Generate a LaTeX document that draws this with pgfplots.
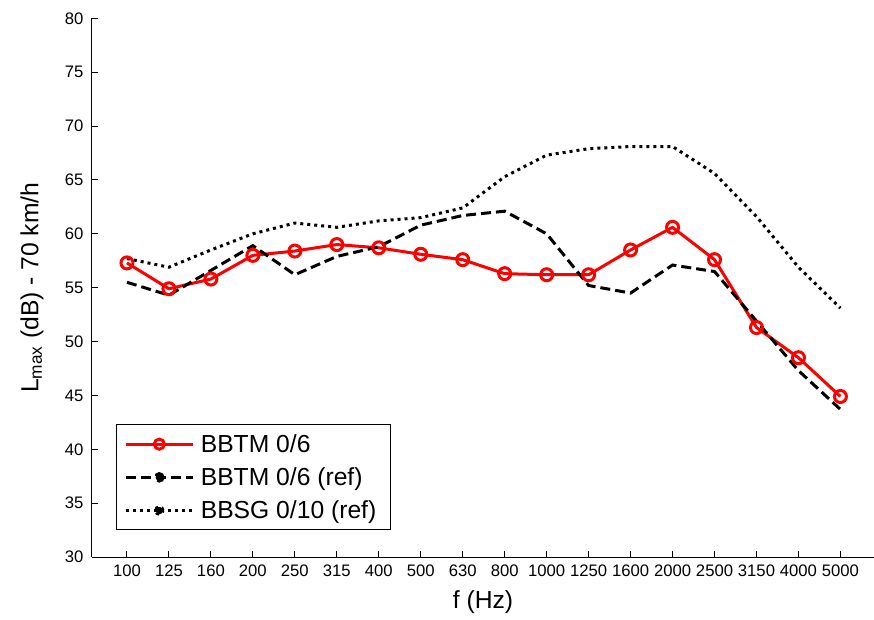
\documentclass[border=0pt]{standalone}
\usepackage{fontspec}
\setmainfont{Liberation Sans}
\usepackage{pgfplots}
\pgfplotsset{compat=1.18}
\pgfplotsset{
  dotlegend/.style={legend image code/.code={\draw[##1] (0pt,0pt) -- (50pt,0pt); \fill[black] (25pt,0pt) circle (2.8pt);}},
  circlegend/.style={legend image code/.code={\draw[##1,mark=none] (0pt,0pt) -- (50pt,0pt); \draw[##1,only marks,mark size=3.8pt] plot coordinates {(25pt,0pt)};}},
}
\begin{document}
\begin{tikzpicture}
\begin{axis}[
  name=ax,
  scale only axis, width=586.5pt, height=404pt,
  xmin=-0.833, xmax=17.8, ymin=30, ymax=80,
  axis x line*=bottom, axis y line*=left,
  axis line style={-, line width=0.75pt},
  tick align=inside, major tick length=4.5pt,
  tick style={line width=0.75pt, black},
  xtick={0,...,17},
  xticklabels={100,125,160,200,250,315,400,500,630,800,1000,1250,1600,2000,2500,3150,4000,5000},
  ytick={30,35,...,80},
  /pgf/number format/assume math mode=true,
  ticklabel style={font=\fontsize{12.5}{15}\selectfont},
  xticklabel style={yshift=-2pt},
  yticklabel style={xshift=-3pt},
  label style={font=\fontsize{18.5}{22}\selectfont},
  xlabel={f (Hz)},
  ylabel={L\textsubscript{max} (dB) - 70 km/h},
  xlabel style={yshift=-4pt},
  ylabel style={yshift=9pt},
  legend cell align=left,
  legend style={at={(18pt,20pt)}, anchor=south west, draw=black, line width=0.75pt,
    font=\fontsize{18.5}{21}\selectfont, inner xsep=6pt, inner ysep=5pt,
    row sep=6pt, legend columns=1,
    nodes={inner xsep=5pt}},
]
\addplot[red, line width=2.25pt, mark=o, mark size=4.5pt, mark options={line width=2.25pt, solid}, circlegend]
 coordinates {(0,57.3)(1,54.9)(2,55.8)(3,58.0)(4,58.4)(5,59.0)(6,58.7)(7,58.1)(8,57.6)(9,56.3)(10,56.2)(11,56.2)(12,58.5)(13,60.6)(14,57.6)(15,51.3)(16,48.5)(17,44.9)};
\addlegendentry{BBTM 0/6}
\addplot[black, line width=2.25pt, dash pattern=on 7.5pt off 3.75pt, dotlegend]
 coordinates {(0,55.5)(1,54.3)(2,56.6)(3,58.9)(4,56.2)(5,57.9)(6,58.8)(7,60.8)(8,61.7)(9,62.1)(10,60.0)(11,55.2)(12,54.5)(13,57.1)(14,56.5)(15,51.9)(16,47.3)(17,43.7)};
\addlegendentry{BBTM 0/6 (ref)}
\addplot[black, line width=2.25pt, dash pattern=on 2.25pt off 3pt, dotlegend]
 coordinates {(0,57.7)(1,56.9)(2,58.5)(3,60.0)(4,61.0)(5,60.6)(6,61.2)(7,61.5)(8,62.4)(9,65.3)(10,67.3)(11,67.9)(12,68.1)(13,68.1)(14,65.6)(15,61.6)(16,56.9)(17,53.1)};
\addlegendentry{BBSG 0/10 (ref)}
\end{axis}
\pgfresetboundingbox
\path[use as bounding box] (ax.south west) ++(-69pt,-46.5pt) rectangle ++(655.5pt,464.25pt);
\end{tikzpicture}
\end{document}
